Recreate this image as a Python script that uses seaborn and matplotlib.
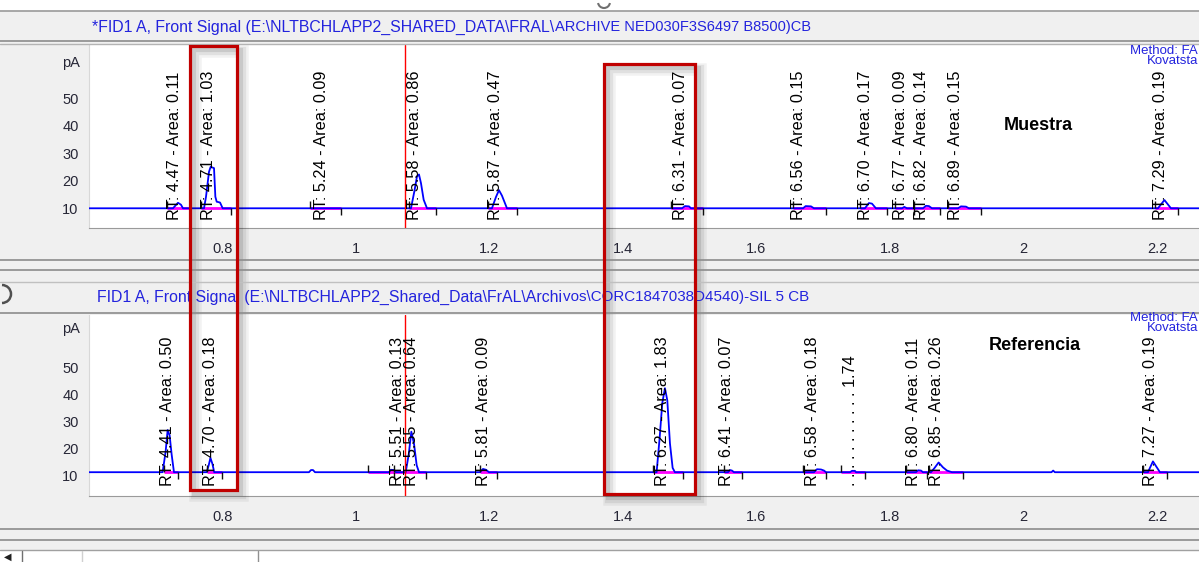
import numpy as np
import pandas as pd
import matplotlib
matplotlib.use("Agg")
import matplotlib.pyplot as plt
import seaborn as sns
from matplotlib.patches import Rectangle, Arc
from matplotlib.lines import Line2D

# ---------------- data ----------------
x_tick_values = [0.8, 1.0, 1.2, 1.4, 1.6, 1.8, 2.0, 2.2]
x_tick_labels = ["0.8", "1", "1.2", "1.4", "1.6", "1.8", "2", "2.2"]
y_tick_values = [10, 20, 30, 40, 50]
y_tick_labels = ["10", "20", "30", "40", "50"]
cursor_x = 1.073

# Muestra (top chromatogram)
top_baseline = 9.9
top_trace_x = [0.600, 0.7258, 0.7333, 0.7378, 0.7408, 0.7723, 0.7753, 0.7798, 0.7823, 0.7873,
               0.7893, 0.7913, 0.7963, 0.8003, 1.0824, 1.0874, 1.0914, 1.0944, 1.0974, 1.1014,
               1.1064, 1.2037, 1.2097, 1.2142, 1.2187, 1.2262, 1.4884, 1.4929, 1.4989, 1.5019,
               1.6697, 1.6737, 1.6817, 1.6862, 1.7625, 1.7685, 1.7730, 1.7790, 1.8180, 1.8215,
               1.8255, 1.8494, 1.8539, 1.8584, 1.8629, 1.9019, 1.9064, 1.9139, 1.9183, 2.2015,
               2.2112, 2.2210, 2.270]
top_trace_y = [9.9, 9.9, 11.9, 11.2, 9.9, 9.9, 14.1, 23.2, 25.0, 24.5,
               14.1, 12.3, 12.0, 9.9, 9.9, 16.0, 21.5, 22.2, 19.0, 13.0,
               9.9, 9.9, 14.0, 16.5, 14.5, 9.9, 9.9, 10.7, 10.6, 9.9,
               9.9, 10.7, 10.6, 9.9, 9.9, 11.8, 11.6, 9.9, 9.9, 10.4,
               9.9, 9.9, 10.8, 10.7, 9.9, 9.9, 10.6, 10.5, 9.9, 9.9,
               12.9, 9.9, 9.9]
top_rt = [4.47, 4.71, 5.24, 5.58, 5.87, 6.31, 6.56, 6.70, 6.77, 6.82, 6.89, 7.29]
top_area = [0.11, 1.03, 0.09, 0.86, 0.47, 0.07, 0.15, 0.17, 0.09, 0.14, 0.15, 0.19]
top_label_x = [0.7288, 0.7783, 0.9483, 1.0884, 1.2091, 1.4860, 1.6637, 1.7640, 1.8156, 1.8472, 1.8989, 2.2055]
top_start = [0.7169, 0.7678, 0.9311, 1.0801, 1.1978, 1.4716, 1.6547, 1.7551, 1.8070, 1.8356, 1.8869, 2.1970]
top_end = [0.7513, 0.8123, 0.9769, 1.1199, 1.2406, 1.5203, 1.7038, 1.7955, 1.8356, 1.8757, 1.9360, 2.2315]

# Referencia (bottom chromatogram)
bot_baseline = 11.4
bot_trace_x = [0.600, 0.7103, 0.7148, 0.7178, 0.7208, 0.7238, 0.7273, 0.7763, 0.7794, 0.7819,
               0.7849, 0.7876, 0.9296, 0.9326, 0.9356, 0.9386, 1.0494, 1.0524, 1.0569, 1.0600,
               1.0745, 1.0790, 1.0829, 1.0869, 1.0909, 1.0944, 1.1858, 1.1903, 1.1948, 1.1993,
               1.4504, 1.4549, 1.4589, 1.4629, 1.4664, 1.4704, 1.4744, 1.4778, 1.5573, 1.5603,
               1.5633, 1.5663, 1.6862, 1.6907, 1.6967, 1.7012, 1.7041, 1.7401, 1.7431, 1.7476,
               1.7491, 1.8390, 1.8420, 1.8465, 1.8494, 1.8614, 1.8669, 1.8729, 1.8794, 1.8854,
               1.8929, 2.0420, 2.0445, 2.0470, 2.1865, 2.1940, 2.2045, 2.270]
bot_trace_y = [11.4, 11.4, 19.0, 27.0, 25.0, 18.0, 11.4, 11.4, 14.0, 16.7,
               14.5, 11.4, 11.4, 12.2, 12.2, 11.4, 11.4, 12.3, 12.2, 11.4,
               11.4, 18.0, 26.4, 22.0, 14.0, 11.4, 11.4, 12.6, 12.3, 11.4,
               11.4, 24.0, 37.0, 42.5, 38.0, 22.0, 13.0, 11.4, 11.4, 12.2,
               12.0, 11.4, 11.4, 12.5, 12.4, 12.0, 11.4, 11.4, 11.9, 11.9,
               11.4, 11.4, 12.1, 12.0, 11.4, 11.4, 13.0, 15.0, 13.2, 12.0,
               11.4, 11.4, 12.0, 11.4, 11.4, 15.4, 11.4, 11.4]
bot_rt = [4.41, 4.70, 5.51, 5.55, 5.81, 6.27, 6.41, 6.58, None, 6.80, 6.85, 7.27]
bot_area = [0.50, 0.18, 0.13, 0.64, 0.09, 1.83, 0.07, 0.18, 1.74, 0.11, 0.26, 0.19]
bot_label_x = [0.7172, 0.7820, 1.0629, 1.0830, 1.1903, 1.4599, 1.5548, 1.6836, 1.7411, 1.8356, 1.8700, 2.1910]
bot_start = [0.7131, 0.7763, 1.0187, 1.0569, 1.1858, 1.4454, 1.5513, 1.6693, 1.7266, 1.8240, 1.8584, 2.1796]
bot_end = [0.7333, 0.7993, 1.0569, 1.1043, 1.2108, 1.4893, 1.5789, 1.7038, 1.7622, 1.8556, 1.9101, 2.2157]

top_title = "*FID1 A, Front Signal (E:\\NLTBCHLAPP2_SHARED_DATA\\FRAL\\"
top_title_tail = "ARCHIVE NED030F3S6497 B8500)CB"
bot_title = "FID1 A, Front Signal (E:\\NLTBCHLAPP2_Shared_Data\\FrAL\\Archi"
bot_title_tail = "vos\\CORC1847038D4540)-SIL 5 CB"
method_text = "Method: FA\nKovatsta"

# ---------------- style ----------------
sns.set_style("white")
plt.rcParams["font.family"] = ["Liberation Sans", "DejaVu Sans"]

W, H = 1199, 562
BG = "#f0f0f0"
BLUE_TXT = "#2323dd"
fig = plt.figure(figsize=(W / 100, H / 100), dpi=100, facecolor=BG)


def fx(px):
    return px / W


def fy(py):
    return 1 - py / H


def hline(py, x0=0, x1=W, color="#a0a0a0", lw=1.0):
    fig.add_artist(Line2D([fx(x0), fx(x1)], [fy(py), fy(py)], color=color, lw=lw,
                          transform=fig.transFigure))


def vline(px, y0, y1, color="#a0a0a0", lw=1.0):
    fig.add_artist(Line2D([fx(px), fx(px)], [fy(y0), fy(y1)], color=color, lw=lw,
                          transform=fig.transFigure))


# window chrome
fig.add_artist(Rectangle((0, fy(11)), 1, 11 / H, transform=fig.transFigure,
                         facecolor="white", edgecolor="none"))
hline(11, color="#9a9a9a", lw=1.2)
hline(41, color="#8c8c8c", lw=1.2)
hline(44, color="#b4b4b4", lw=1.0)
fig.add_artist(Arc((fx(604), fy(2)), 12 / W, 12 / H, theta1=200, theta2=340,
                   transform=fig.transFigure, color="#707070", lw=1.5))

hline(260, color="#8c8c8c", lw=1.2)
hline(270, color="#8c8c8c", lw=1.2)
hline(282, color="#c0c0c0", lw=1.0)
hline(313, color="#8c8c8c", lw=1.2)
fig.add_artist(Arc((fx(2), fy(294)), 18 / W, 18 / H, theta1=-90, theta2=90,
                   transform=fig.transFigure, color="#505050", lw=1.8))

hline(529, color="#8c8c8c", lw=1.2)
hline(540, color="#8c8c8c", lw=1.2)
hline(550, color="#a0a0a0", lw=1.0)
fig.add_artist(Rectangle((0, 0), 1, fy(551), transform=fig.transFigure,
                         facecolor="white", edgecolor="none"))
vline(22, 551, 562, color="#707070")
vline(82, 551, 562, color="#d0d0d0")
vline(258, 551, 562, color="#909090")
fig.text(fx(4), fy(557), "\u25c0", fontsize=7, color="#202020", va="center", ha="left")


def draw_panel(rect_px, ylim, baseline, tx, ty, label_x, rts, areas, starts, ends, label_off_px):
    left, top, bottom = rect_px
    ax = fig.add_axes([fx(left), fy(bottom), 1 - fx(left), (bottom - top) / H])
    ax.set_facecolor("white")
    df = pd.DataFrame({"x": tx, "y": ty})
    sns.lineplot(data=df, x="x", y="y", ax=ax, color="#0000ff", linewidth=1.3,
                 sort=False, estimator=None, zorder=4)
    ax.hlines([baseline] * len(starts), starts, ends, colors="#ff00ff", lw=2.0, zorder=3)
    ax.plot(starts, [baseline] * len(starts), linestyle="none", marker=2, markersize=5,
            mew=1.0, color="#101010", zorder=5)
    ax.plot(ends, [baseline] * len(ends), linestyle="none", marker=3, markersize=5,
            mew=1.0, color="#101010", zorder=5)
    ax.axvline(cursor_x, color="#ff0000", lw=1.0, zorder=6)
    for lx, rt, ar in zip(label_x, rts, areas):
        if rt is None:
            txt = ". " * 11 + f"{ar:.2f}"
        else:
            txt = f"RT: {rt:.2f} - Area: {ar:.2f}"
        ax.annotate(txt, xy=(lx, baseline), xytext=(0, -label_off_px * 0.72),
                    textcoords="offset points", rotation=90, ha="center", va="bottom",
                    fontsize=11.7, color="#000000", zorder=7)
    ax.set_xlim(0.6, 2.263)
    ax.set_ylim(*ylim)
    ax.set_xticks(x_tick_values)
    ax.set_xticklabels(x_tick_labels)
    ax.set_xticks(np.arange(0.65, 2.27, 0.05), minor=True)
    ax.set_yticks(y_tick_values)
    ax.set_yticklabels(y_tick_labels)
    ax.set_yticks(np.arange(4, 69, 2), minor=True)
    ax.set_xlabel("")
    ax.set_ylabel("")
    for s in ["top", "right"]:
        ax.spines[s].set_visible(False)
    ax.spines["bottom"].set_color("#9a9a9a")
    ax.spines["left"].set_color("#d8d8d8")
    ax.tick_params(axis="x", which="major", length=6, width=1.0, color="#8a8a8a",
                   direction="out", pad=4, labelsize=10.5, labelcolor="#262636")
    ax.tick_params(axis="x", which="minor", length=3, width=1.0, color="#9a9a9a", direction="out")
    ax.tick_params(axis="y", which="major", length=5, width=1.0, color="#8a8a8a",
                   direction="out", pad=2.5, labelsize=10.5, labelcolor="#262636")
    ax.tick_params(axis="y", which="minor", length=3, width=1.0, color="#a8a8a8", direction="out")
    return ax


ax_top = draw_panel((89, 45, 228), (2.73, 69.3), top_baseline, top_trace_x, top_trace_y,
                    top_label_x, top_rt, top_area, top_start, top_end, 12)
ax_bot = draw_panel((89, 315, 496), (2.59, 69.6), bot_baseline, bot_trace_x, bot_trace_y,
                    bot_label_x, bot_rt, bot_area, bot_start, bot_end, 14)

# panel texts
fig.text(fx(80), fy(63), "pA", ha="right", va="center", fontsize=10.5, color="#262636")
fig.text(fx(80), fy(329), "pA", ha="right", va="center", fontsize=10.5, color="#262636")

renderer = fig.canvas.get_renderer()


def title_bar_text(x0, y0, main, tail, end_px):
    t = fig.text(fx(x0), fy(y0), main, ha="left", va="center", fontsize=11.4, color=BLUE_TXT)
    x_end = t.get_window_extent(renderer).x1 + 1
    tt = fig.text(x_end / W, fy(y0), tail, ha="left", va="center", fontsize=11.4, color=BLUE_TXT)
    w = tt.get_window_extent(renderer).width
    span = end_px - x_end
    if w > span:
        tt.set_fontsize(11.4 * span / w)


title_bar_text(92, 27, top_title, top_title_tail, 810)
title_bar_text(97, 297, bot_title, bot_title_tail, 810)

for yy in (56, 323):
    fig.text(fx(1198), fy(yy), method_text, ha="right", va="center", fontsize=9.5,
             multialignment="right", linespacing=0.85, color=BLUE_TXT)

fig.text(fx(1038), fy(125), "Muestra", ha="center", va="center", fontsize=13,
         fontweight="bold", color="black")
fig.text(fx(1035), fy(345), "Referencia", ha="center", va="center", fontsize=13,
         fontweight="bold", color="black")

# red highlight boxes with soft shadow
for (x0, y0, x1, y1) in [(190, 46, 237, 490), (604, 64, 695, 494)]:
    for off, lw, a in [(5, 9, 0.05), (5, 6, 0.07), (4, 3, 0.10)]:
        fig.add_artist(Rectangle((fx(x0 + off), fy(y1 + off)), (x1 - x0) / W, (y1 - y0) / H,
                                 transform=fig.transFigure, fill=False,
                                 edgecolor=(0, 0, 0, a), lw=lw))
    fig.add_artist(Rectangle((fx(x0), fy(y1)), (x1 - x0) / W, (y1 - y0) / H,
                             transform=fig.transFigure, fill=False,
                             edgecolor="#c00000", lw=2.3, zorder=20))

fig.savefig("out.png", dpi=100, facecolor=BG)
